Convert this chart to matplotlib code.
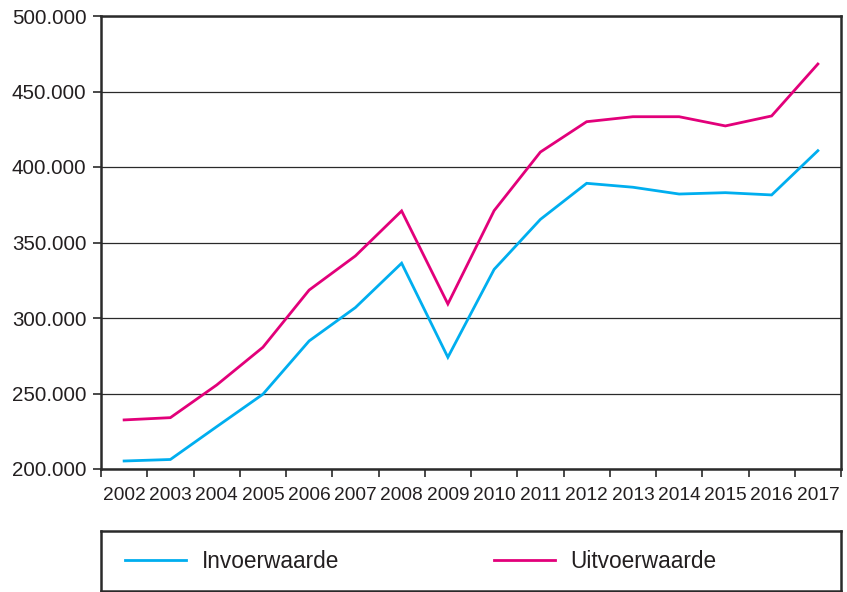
import matplotlib
matplotlib.use("Agg")
import matplotlib.pyplot as plt
from matplotlib.ticker import FuncFormatter, MultipleLocator, FixedLocator

years = ["2002", "2003", "2004", "2005", "2006", "2007", "2008", "2009",
         "2010", "2011", "2012", "2013", "2014", "2015", "2016", "2017"]
invoerwaarde = [205300, 206300, 228000, 249500, 284800, 306900, 336300, 274000,
                332200, 365300, 389200, 386600, 382100, 383000, 381500, 410800]
uitvoerwaarde = [232500, 234000, 255600, 280600, 318500, 341100, 370900, 309300,
                 371100, 409900, 430000, 433300, 433300, 427200, 433800, 468200]
labels = ["Invoerwaarde", "Uitvoerwaarde"]

TXT = "#231f20"
plt.rcParams["font.family"] = ["Liberation Sans", "DejaVu Sans"]

fig = plt.figure(figsize=(8.47, 5.92), dpi=100)
ax = fig.add_axes([101/847, 1 - 469/592, 740/847, 453/592])

x = list(range(len(years)))
l1, = ax.plot(x, invoerwaarde, color="#00aeef", lw=2.0, solid_joinstyle="miter", zorder=3)
l2, = ax.plot(x, uitvoerwaarde, color="#e2007a", lw=2.0, solid_joinstyle="miter", zorder=3)

ax.set_xlim(-0.5, len(years) - 0.5)
ax.set_ylim(200000, 500000)
ax.yaxis.set_major_locator(MultipleLocator(50000))
ax.yaxis.set_major_formatter(FuncFormatter(lambda v, p: f"{int(v):,}".replace(",", ".")))
ax.grid(axis="y", color="#2a2a2a", lw=0.9, zorder=1)

ax.xaxis.set_major_locator(FixedLocator(x))
ax.set_xticklabels(years)
ax.xaxis.set_minor_locator(FixedLocator([i - 0.5 for i in range(len(years) + 1)]))
ax.tick_params(axis="x", which="major", length=0, pad=13, labelsize=13.8, labelcolor=TXT)
ax.tick_params(axis="x", which="minor", length=6, width=1.2, color="#2a2a2a", direction="out")
ax.tick_params(axis="y", which="major", length=6, width=1.2, color="#2a2a2a", pad=4.5,
               labelsize=14.8, labelcolor=TXT)

for s in ax.spines.values():
    s.set_color("#2a2a2a")
    s.set_linewidth(1.8)
    s.set_zorder(4)

lax = fig.add_axes([101/847, 1 - 591/592, 740/847, 60/592])
lax.set_xticks([])
lax.set_yticks([])
for s in lax.spines.values():
    s.set_color("#2a2a2a")
    s.set_linewidth(1.8)
lax.legend([l1, l2], labels, ncol=2, loc="center left", bbox_to_anchor=(0.005, 0.5),
           frameon=False, handlelength=2.7, handletextpad=0.68, columnspacing=6.85,
           prop={"size": 16.3}, labelcolor=TXT)

fig.savefig("out.png", dpi=100)
